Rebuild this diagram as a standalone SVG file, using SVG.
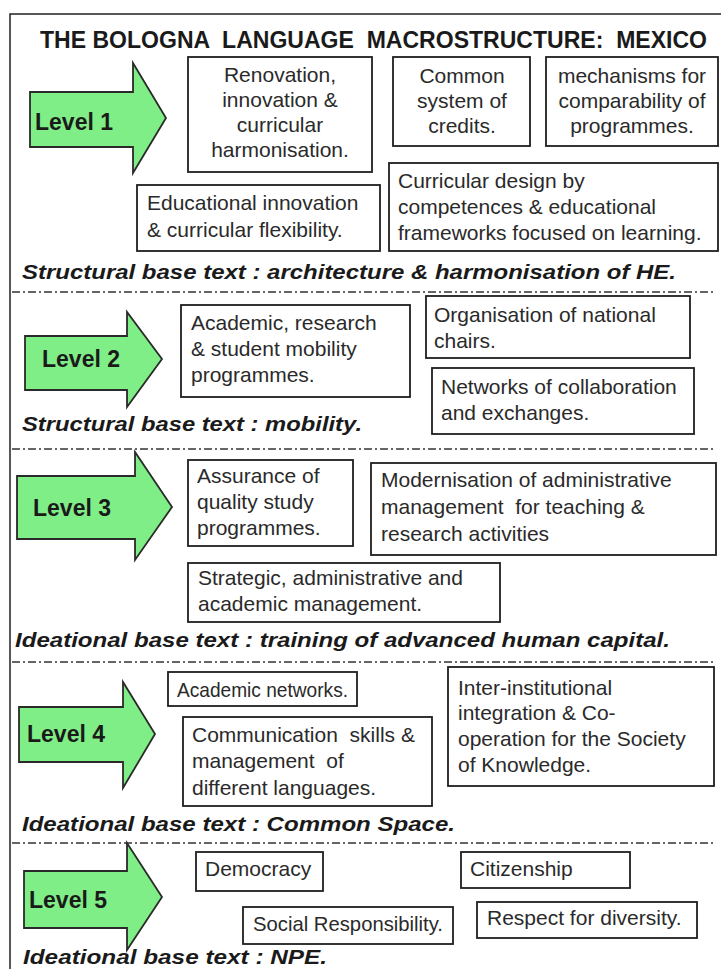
<svg xmlns="http://www.w3.org/2000/svg" width="721" height="969" viewBox="0 0 721 969">
<style>
.bg{fill:#fff}
.frame{fill:none;stroke:#222;stroke-width:1.5}
.arrow{fill:#80ee86;stroke:#2a2a2a;stroke-width:1.8;stroke-linejoin:miter}
.box{fill:#fff;stroke:#1e1e1e;stroke-width:1.8}
.t{font-family:"Liberation Sans",Arial,sans-serif;font-size:21px;fill:#2a2a2a}
.c{text-anchor:middle}
.lv{font-family:"Liberation Sans",Arial,sans-serif;font-size:23px;font-weight:bold;fill:#1a1a1a}
.base{font-family:"Liberation Sans",Arial,sans-serif;font-size:21px;font-weight:bold;font-style:italic;fill:#1a1a1a}
.title{font-family:"Liberation Sans",Arial,sans-serif;font-size:23px;font-weight:bold;fill:#1a1a1a}
.sep{stroke:#333;stroke-width:1.6;stroke-dasharray:8 3 2 3;fill:none}
</style>
<rect class="bg" x="0" y="0" width="721" height="969"/>
<path class="frame" d="M10,969 L10,14 L721,14"/>
<text class="title" x="40" y="48" textLength="667" lengthAdjust="spacingAndGlyphs" xml:space="preserve">THE BOLOGNA  LANGUAGE  MACROSTRUCTURE:  MEXICO</text>

<g id="separators">
<line class="sep" x1="12" y1="292" x2="715" y2="292"/>
<line class="sep" x1="12" y1="449" x2="715" y2="449"/>
<line class="sep" x1="12" y1="662" x2="715" y2="662"/>
<line class="sep" x1="12" y1="843" x2="715" y2="843"/>
</g>

<!-- Level 1 -->
<g id="level1">
<path class="arrow" d="M30,92 L133,92 L133,63 L166,118 L133,173 L133,147 L30,147 Z"/>
<text class="lv" x="35" y="130">Level 1</text>
</g>
<g id="n-renovation">
<rect class="box" x="188" y="57" width="184" height="115"/>
<text class="t c" x="280" y="82">Renovation,</text>
<text class="t c" x="280" y="107">innovation &amp;</text>
<text class="t c" x="280" y="132">curricular</text>
<text class="t c" x="280" y="157">harmonisation.</text>
</g>
<g id="n-credits">
<rect class="box" x="393" y="57" width="137" height="89"/>
<text class="t c" x="462" y="83">Common</text>
<text class="t c" x="462" y="108">system of</text>
<text class="t c" x="462" y="133">credits.</text>
</g>
<g id="n-mechanisms">
<rect class="box" x="546" y="57" width="172" height="89"/>
<text class="t c" x="632" y="83">mechanisms for</text>
<text class="t c" x="632" y="108">comparability of</text>
<text class="t c" x="632" y="133">programmes.</text>
</g>
<g id="n-educational">
<rect class="box" x="137" y="185" width="243" height="66"/>
<text class="t" x="147" y="210">Educational innovation</text>
<text class="t" x="147" y="237">&amp; curricular flexibility.</text>
</g>
<g id="n-curricular">
<rect class="box" x="389" y="163" width="329" height="88"/>
<text class="t" x="398" y="188">Curricular design by</text>
<text class="t" x="398" y="214">competences &amp; educational</text>
<text class="t" x="398" y="240">frameworks focused on learning.</text>
</g>
<text class="base" x="22" y="279" textLength="654" lengthAdjust="spacingAndGlyphs">Structural base text : architecture &amp; harmonisation of HE.</text>

<!-- Level 2 -->
<g id="level2">
<path class="arrow" d="M25,336 L127,336 L127,312 L162,359 L127,407 L127,390 L25,390 Z"/>
<text class="lv" x="42" y="367">Level 2</text>
</g>
<g id="n-mobility">
<rect class="box" x="181" y="305" width="229" height="92"/>
<text class="t" x="191" y="330">Academic, research</text>
<text class="t" x="191" y="356">&amp; student mobility</text>
<text class="t" x="191" y="382">programmes.</text>
</g>
<g id="n-chairs">
<rect class="box" x="426" y="296" width="264" height="62"/>
<text class="t" x="434" y="322">Organisation of national</text>
<text class="t" x="434" y="348">chairs.</text>
</g>
<g id="n-networks">
<rect class="box" x="432" y="368" width="262" height="66"/>
<text class="t" x="441" y="394">Networks of collaboration</text>
<text class="t" x="441" y="420">and exchanges.</text>
</g>
<text class="base" x="22" y="431" textLength="340" lengthAdjust="spacingAndGlyphs">Structural base text : mobility.</text>

<!-- Level 3 -->
<g id="level3">
<path class="arrow" d="M17,476 L135,476 L135,452 L172,507 L135,560 L135,539 L17,539 Z"/>
<text class="lv" x="33" y="516">Level 3</text>
</g>
<g id="n-assurance">
<rect class="box" x="188" y="460" width="165" height="86"/>
<text class="t" x="197" y="483">Assurance of</text>
<text class="t" x="197" y="509">quality study</text>
<text class="t" x="197" y="535">programmes.</text>
</g>
<g id="n-modernisation">
<rect class="box" x="371" y="463" width="345" height="92"/>
<text class="t" x="381" y="487">Modernisation of administrative</text>
<text class="t" x="381" y="514" xml:space="preserve">management  for teaching &amp;</text>
<text class="t" x="381" y="541">research activities</text>
</g>
<g id="n-strategic">
<rect class="box" x="188" y="563" width="312" height="59"/>
<text class="t" x="198" y="585">Strategic, administrative and</text>
<text class="t" x="198" y="611">academic management.</text>
</g>
<text class="base" x="15" y="647" textLength="655" lengthAdjust="spacingAndGlyphs">Ideational base text : training of advanced human capital.</text>

<!-- Level 4 -->
<g id="level4">
<path class="arrow" d="M19,707 L123,707 L123,682 L155,734 L123,788 L123,762 L19,762 Z"/>
<text class="lv" x="27" y="742">Level 4</text>
</g>
<g id="n-acnetworks">
<rect class="box" x="168" y="672" width="189" height="34"/>
<text class="t" x="177" y="697" textLength="171" lengthAdjust="spacingAndGlyphs">Academic networks.</text>
</g>
<g id="n-communication">
<rect class="box" x="183" y="717" width="249" height="89"/>
<text class="t" x="192" y="742" xml:space="preserve">Communication  skills &amp;</text>
<text class="t" x="192" y="768" xml:space="preserve">management  of</text>
<text class="t" x="192" y="795">different languages.</text>
</g>
<g id="n-inter">
<rect class="box" x="448" y="667" width="266" height="119"/>
<text class="t" x="458" y="695">Inter-institutional</text>
<text class="t" x="458" y="720">integration &amp; Co-</text>
<text class="t" x="458" y="746">operation for the Society</text>
<text class="t" x="458" y="772">of Knowledge.</text>
</g>
<text class="base" x="22" y="831" textLength="433" lengthAdjust="spacingAndGlyphs">Ideational base text : Common Space.</text>

<!-- Level 5 -->
<g id="level5">
<path class="arrow" d="M24,871 L127,871 L127,843 L162,897 L127,950 L127,928 L24,928 Z"/>
<text class="lv" x="29" y="908">Level 5</text>
</g>
<g id="n-democracy">
<rect class="box" x="196" y="852" width="127" height="39"/>
<text class="t" x="205" y="876">Democracy</text>
</g>
<g id="n-citizenship">
<rect class="box" x="461" y="852" width="169" height="36"/>
<text class="t" x="470" y="876">Citizenship</text>
</g>
<g id="n-social">
<rect class="box" x="243" y="907" width="210" height="37"/>
<text class="t" x="253" y="931" textLength="190" lengthAdjust="spacingAndGlyphs">Social Responsibility.</text>
</g>
<g id="n-respect">
<rect class="box" x="477" y="902" width="220" height="36"/>
<text class="t" x="487" y="925">Respect for diversity.</text>
</g>
<text class="base" x="23" y="964" textLength="304" lengthAdjust="spacingAndGlyphs">Ideational base text : NPE.</text>
</svg>
